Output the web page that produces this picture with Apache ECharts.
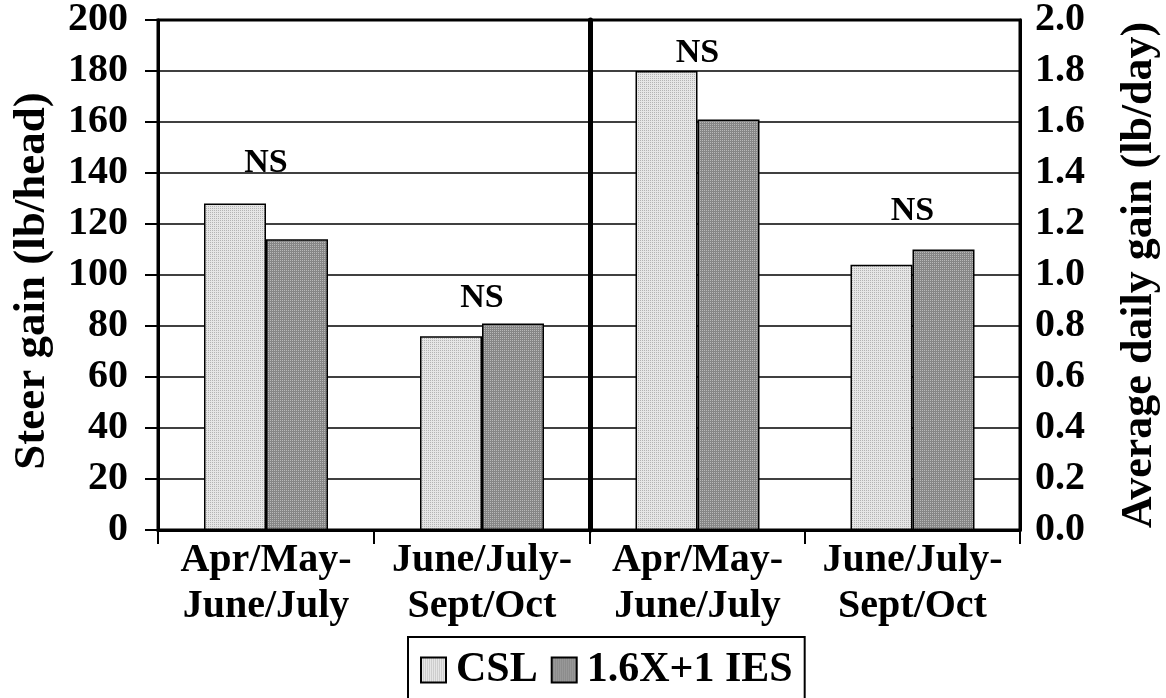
<!DOCTYPE html>
<html><head><meta charset="utf-8">
<script src="https://cdn.jsdelivr.net/npm/echarts@6/dist/echarts.min.js"></script>
<style>html,body{margin:0;padding:0;background:#fff}#c{width:1166px;height:698px}</style>
</head><body><div id="c"></div>
<script>
// ---- data ----
var categories = ['Apr/May-\nJune/July', 'June/July-\nSept/Oct'];
var gainCSL = [128, 76];       // lb/head
var gainIES = [114, 81];
var adgCSL = [1.80, 1.04];     // lb/day
var adgIES = [1.61, 1.10];
var nsGain = [144, 91];        // NS label heights (lb/head axis)
var nsADG = [1.87, 1.25];      // NS label heights (lb/day axis)
var leftTicks = {min: 0, max: 200, interval: 20};
var rightTicks = {min: 0, max: 2.0, interval: 0.2};

function pattern(bg, dot) {
  var c = document.createElement('canvas'); c.width = 4; c.height = 4;
  var g = c.getContext('2d');
  g.fillStyle = bg; g.fillRect(0, 0, 4, 4);
  g.fillStyle = dot;
  g.fillRect(0, 0, 1, 1); g.fillRect(2, 2, 1, 1); g.fillRect(2, 0, 1, 1); g.fillRect(0, 2, 1, 1);
  return {image: c, repeat: 'repeat'};
}
var cslFill = pattern('#e6e6e6', '#b4b4b4');
var iesFill = pattern('#868686', '#b8b8b8');

var FONT = '"Liberation Serif", "Times New Roman", serif';
var txt = {fontFamily: FONT, fontWeight: 'bold', color: '#000'};

function xAxis(gi) {
  return {
    type: 'category', gridIndex: gi, data: categories,
    axisLine: {lineStyle: {color: '#000', width: 3}},
    axisTick: {show: true, length: 14, lineStyle: {color: '#000', width: 2}},
    axisLabel: Object.assign({fontSize: 40, lineHeight: 46, margin: 8, interval: 0}, txt)
  };
}
var split = {show: true, lineStyle: {color: '#000', width: 1.5}};
var nsLabel = Object.assign({show: true, position: 'inside', formatter: 'NS', fontSize: 34,
  textBorderWidth: 0, opacity: 1}, txt);

var option = {
  animation: false,
  backgroundColor: '#fff',
  grid: [
    {left: 158, right: 576, top: 19, bottom: 168, show: true, borderColor: '#000', borderWidth: 3, backgroundColor: 'transparent'},
    {left: 590, right: 146, top: 19, bottom: 168, show: true, borderColor: '#000', borderWidth: 3, backgroundColor: 'transparent'}
  ],
  xAxis: [xAxis(0), xAxis(1)],
  yAxis: [
    Object.assign({type: 'value', gridIndex: 0, position: 'left',
      name: 'Steer gain (lb/head)', nameLocation: 'middle', nameGap: 103,
      nameTextStyle: Object.assign({fontSize: 45, padding: [0, 12, 0, 0]}, txt),
      axisLine: {show: true, lineStyle: {color: '#000', width: 3}},
      axisTick: {show: true, length: 13, lineStyle: {color: '#000', width: 2}},
      axisLabel: Object.assign({fontSize: 40, margin: 30}, txt),
      splitLine: split}, leftTicks),
    Object.assign({type: 'value', gridIndex: 1, position: 'right',
      name: 'Average daily gain (lb/day)', nameLocation: 'middle', nameGap: 98,
      nameRotate: 90,
      nameTextStyle: Object.assign({fontSize: 44}, txt),
      axisLine: {show: true, lineStyle: {color: '#000', width: 3}},
      axisTick: {show: false},
      axisLabel: Object.assign({fontSize: 40, margin: 15, formatter: function (v) { return v.toFixed(1); }}, txt),
      splitLine: split}, rightTicks),
    Object.assign({type: 'value', gridIndex: 1, position: 'left',
      axisLine: {show: true, lineStyle: {color: '#000', width: 5}},
      axisTick: {show: false}, axisLabel: {show: false}, splitLine: {show: false}}, rightTicks)
  ],
  legend: {
    data: ['CSL', '1.6X+1 IES'],
    icon: 'rect',
    left: 408, top: 637,
    itemWidth: 25, itemHeight: 25, itemGap: 13,
    padding: [12, 12, 12, 12],
    borderColor: '#000', borderWidth: 2,
    textStyle: Object.assign({fontSize: 42, padding: [0, 0, 0, 5]}, txt)
  },
  series: [
    {name: 'CSL', type: 'bar', xAxisIndex: 0, yAxisIndex: 0, data: gainCSL, barWidth: 62, barGap: '0%',
      itemStyle: {color: cslFill, borderColor: '#000', borderWidth: 1.5}},
    {name: '1.6X+1 IES', type: 'bar', xAxisIndex: 0, yAxisIndex: 0, data: gainIES, barWidth: 62, barGap: '0%',
      itemStyle: {color: iesFill, borderColor: '#000', borderWidth: 1.5}},
    {name: 'CSL', type: 'bar', xAxisIndex: 1, yAxisIndex: 1, data: adgCSL, barWidth: 62, barGap: '0%',
      itemStyle: {color: cslFill, borderColor: '#000', borderWidth: 1.5}},
    {name: '1.6X+1 IES', type: 'bar', xAxisIndex: 1, yAxisIndex: 1, data: adgIES, barWidth: 62, barGap: '0%',
      itemStyle: {color: iesFill, borderColor: '#000', borderWidth: 1.5}},
    {type: 'scatter', xAxisIndex: 0, yAxisIndex: 0, symbolSize: 1, silent: true,
      itemStyle: {color: 'transparent'},
      data: nsGain.map(function (v, i) { return [i, v]; }),
      label: nsLabel},
    {type: 'scatter', xAxisIndex: 1, yAxisIndex: 1, symbolSize: 1, silent: true,
      itemStyle: {color: 'transparent'},
      data: nsADG.map(function (v, i) { return [i, v]; }),
      label: nsLabel}
  ]
};
echarts.init(document.getElementById('c')).setOption(option);
</script></body></html>
